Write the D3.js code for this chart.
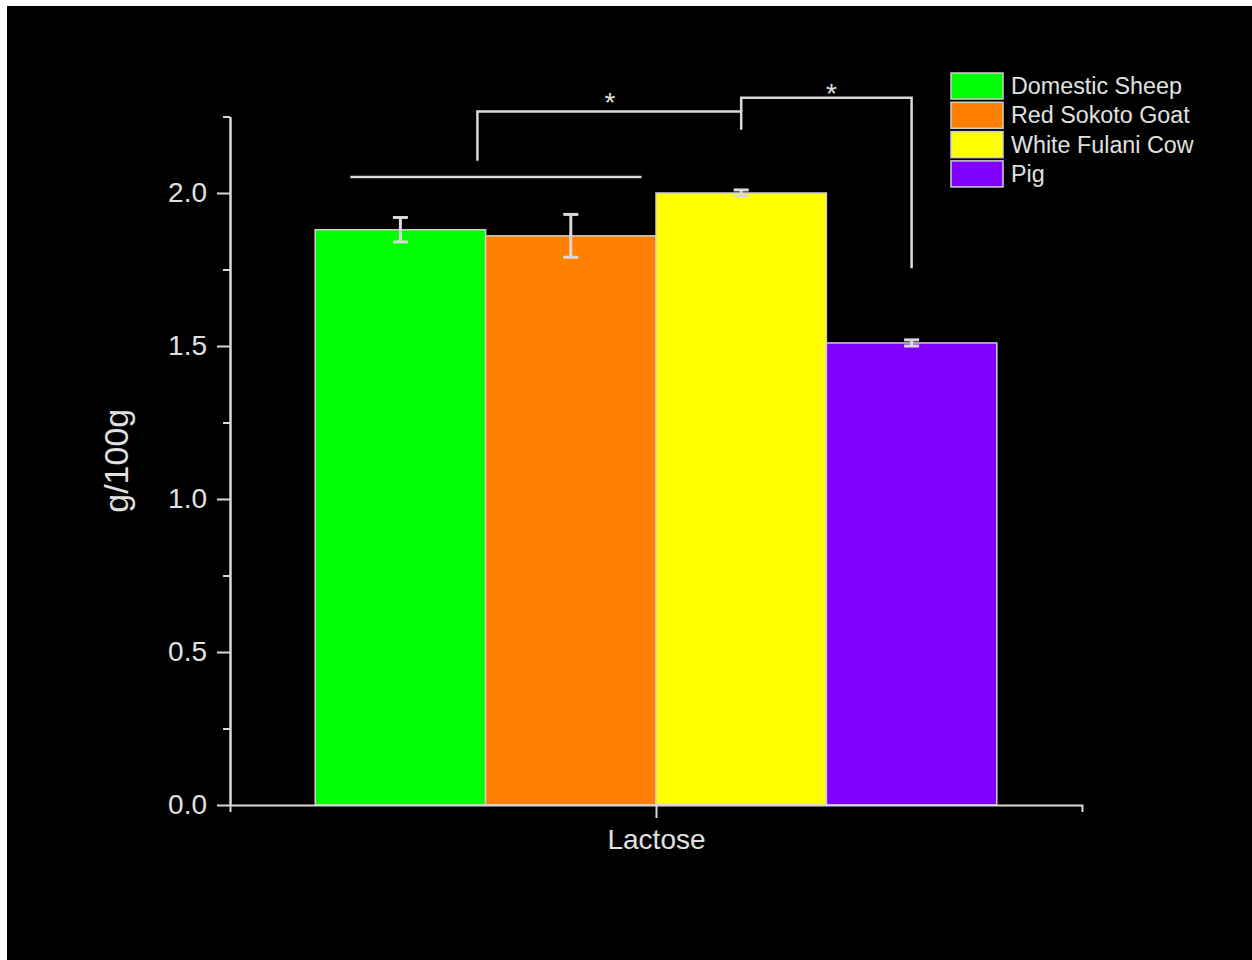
<!DOCTYPE html>
<html>
<head>
<meta charset="utf-8">
<script src="https://cdn.jsdelivr.net/npm/d3@7"></script>
<style>
  html, body { margin: 0; padding: 0; background: #ffffff; }
  svg { display: block; }
</style>
</head>
<body>
<svg id="chart" width="1252" height="960"></svg>
<script>
// ---------- data ----------
const groups = ["Domestic Sheep", "Red Sokoto Goat", "White Fulani Cow", "Pig"];
const colors = ["#00ff00", "#ff8000", "#ffff00", "#8000ff"];
const values = [1.88, 1.86, 2.00, 1.51];
const errors = [0.04, 0.07, 0.01, 0.01];
const category = "Lactose";
const yTicks = [0.0, 0.5, 1.0, 1.5, 2.0];
const yMinorTicks = [0.25, 0.75, 1.25, 1.75, 2.25];
const yLabel = "g/100g";
// significance annotations (x in bar-index units, y in data units)
const plainLine = [[-0.294, 2.052], [1.415, 2.052]];
const bracket1 = [[0.452, 2.105], [0.452, 2.266], [2, 2.266], [2, 2.207]];
const bracket2 = [[2, 2.266], [2, 2.311], [3, 2.311], [3, 1.754]];
const stars = [{x: 1.23, y: 2.264, t: "*"}, {x: 2.53, y: 2.294, t: "*"}];

// ---------- layout ----------
const svg = d3.select("#chart");
const W = 1252, H = 960;
const axisColor = "#d9d9d9";
const font = "'Liberation Sans', Arial, Helvetica, sans-serif";

svg.append("rect").attr("x", 7).attr("y", 6).attr("width", W - 7).attr("height", H - 6).attr("fill", "#000");

const x = d3.scaleLinear().domain([-1, 4]).range([230, 1082]);
const y = d3.scaleLinear().domain([0, 2.25]).range([805, 116.5]);

// bars
const bw = x(1) - x(0);
svg.append("g").selectAll("rect").data(values).join("rect")
  .attr("x", (d, i) => x(i - 0.5))
  .attr("y", d => y(d))
  .attr("width", bw)
  .attr("height", d => y(0) - y(d))
  .attr("fill", (d, i) => colors[i])
  .attr("stroke", "#cfcfcf")
  .attr("stroke-width", 1.5);

// error bars
const eb = svg.append("g").attr("stroke", "#d9d9d9").attr("stroke-width", 3).attr("fill", "none");
values.forEach((v, i) => {
  const cx = x(i);
  eb.append("line").attr("x1", cx).attr("x2", cx).attr("y1", y(v + errors[i])).attr("y2", y(v - errors[i]));
  eb.append("line").attr("x1", cx - 7.5).attr("x2", cx + 7.5).attr("y1", y(v + errors[i])).attr("y2", y(v + errors[i]));
  eb.append("line").attr("x1", cx - 7.5).attr("x2", cx + 7.5).attr("y1", y(v - errors[i])).attr("y2", y(v - errors[i]));
});

// axes
function styleAxis(g) {
  g.selectAll(".domain").attr("stroke", axisColor).attr("stroke-width", 2);
  g.selectAll(".tick line").attr("stroke", axisColor).attr("stroke-width", 2);
  g.selectAll(".tick text").attr("fill", "#e0e0e0").style("font-family", font);
}

const yMinor = svg.append("g").attr("transform", `translate(${x(-1)},0)`)
  .call(d3.axisLeft(y).tickValues(yMinorTicks).tickSize(7).tickSizeOuter(0).tickFormat(""));
styleAxis(yMinor);

const yAxis = svg.append("g").attr("transform", `translate(${x(-1)},0)`)
  .call(d3.axisLeft(y).tickValues(yTicks).tickSize(13).tickSizeOuter(0).tickPadding(10).tickFormat(d3.format(".1f")));
styleAxis(yAxis);
yAxis.selectAll(".tick text").style("font-size", "28px");

const xAxis = svg.append("g").attr("transform", `translate(0,${y(0)})`)
  .call(d3.axisBottom(x).tickValues([1.5]).tickSize(13).tickSizeOuter(7).tickPadding(10).tickFormat(() => category));
styleAxis(xAxis);
xAxis.selectAll(".tick text").style("font-size", "28px").attr("dy", "0.74em");

// y label
svg.append("text")
  .attr("transform", `translate(128,${(y(0) + y(2.25)) / 2}) rotate(-90)`)
  .attr("text-anchor", "middle")
  .attr("fill", "#e0e0e0")
  .style("font-family", font)
  .style("font-size", "34px")
  .text(yLabel);

// significance lines
const line = d3.line().x(d => x(d[0])).y(d => y(d[1]));
[plainLine, bracket1, bracket2].forEach(pts => {
  svg.append("path").attr("d", line(pts)).attr("fill", "none")
    .attr("stroke", axisColor).attr("stroke-width", 2.5).attr("stroke-linejoin", "miter");
});
svg.append("g").selectAll("text").data(stars).join("text")
  .attr("x", d => x(d.x)).attr("y", d => y(d.y))
  .attr("text-anchor", "middle")
  .attr("fill", "#e0e0e0")
  .style("font-family", font)
  .style("font-size", "28px")
  .text(d => d.t);

// legend
const lg = svg.append("g").attr("transform", "translate(951,73)");
const rowH = 29.3;
groups.forEach((g, i) => {
  lg.append("rect").attr("x", 0).attr("y", i * rowH).attr("width", 52).attr("height", 26)
    .attr("fill", colors[i]).attr("stroke", "#cfcfcf").attr("stroke-width", 1.5);
  lg.append("text").attr("x", 60).attr("y", i * rowH + 21)
    .attr("fill", "#e0e0e0")
    .style("font-family", font)
    .style("font-size", "23.3px")
    .text(g);
});
</script>
</body>
</html>
